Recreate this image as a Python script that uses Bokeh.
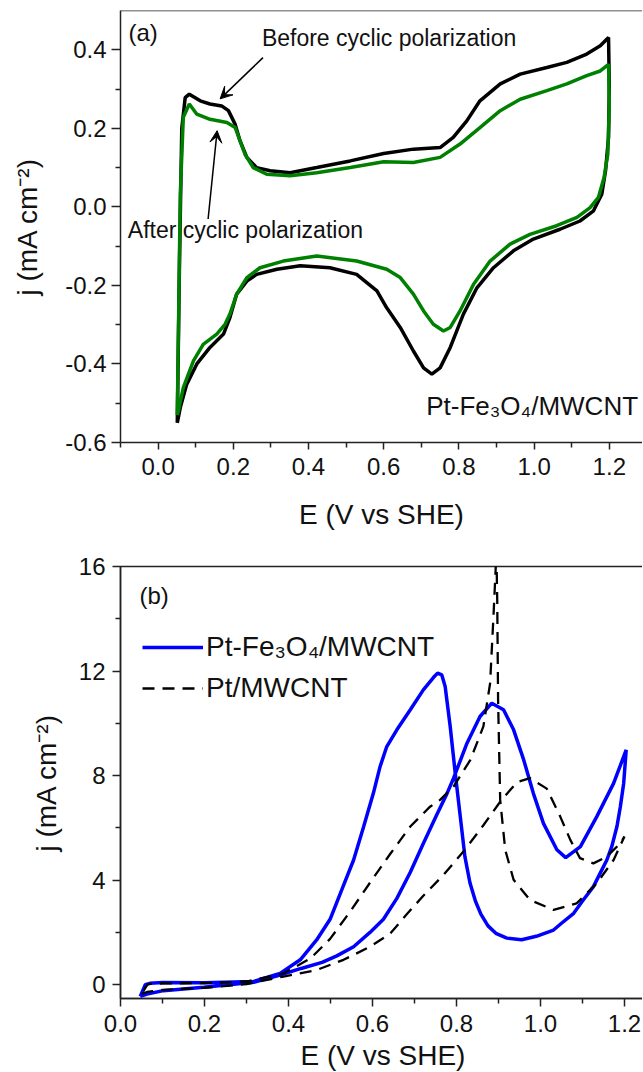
from bokeh.plotting import figure
from bokeh.layouts import column
from bokeh.models import (Range1d, FixedTicker, NumeralTickFormatter, Label,
                          Arrow, VeeHead, Span, Legend, LegendItem)
from bokeh.embed import file_html
from bokeh.resources import INLINE

FONT = "Liberation Sans"

# ---------------- Panel (a): CV before / after cyclic polarization ----------------
before_E = [0.051, 0.057, 0.063, 0.072, 0.083, 0.112, 0.138, 0.169, 0.187, 0.205, 0.218, 0.236,
            0.262, 0.298, 0.351, 0.422, 0.511, 0.60, 0.679, 0.75, 0.785, 0.821, 0.856, 0.91, 0.963,
            1.034, 1.087, 1.14, 1.176, 1.198, 1.2, 1.198, 1.19, 1.18, 1.158, 1.122, 1.069, 0.998,
            0.945, 0.892, 0.848, 0.812, 0.777, 0.75, 0.728, 0.706, 0.679, 0.644, 0.608, 0.582,
            0.528, 0.457, 0.378, 0.316, 0.262, 0.236, 0.209, 0.191, 0.174, 0.138, 0.103, 0.076,
            0.059, 0.051]
before_j = [-0.55, -0.137, 0.20, 0.278, 0.287, 0.27, 0.262, 0.257, 0.245, 0.21, 0.168, 0.126,
            0.10, 0.092, 0.087, 0.10, 0.117, 0.136, 0.147, 0.151, 0.177, 0.219, 0.27, 0.313, 0.338,
            0.355, 0.368, 0.389, 0.41, 0.431, 0.304, 0.177, 0.092, 0.032, -0.01, -0.036, -0.057,
            -0.082, -0.112, -0.155, -0.206, -0.273, -0.358, -0.41, -0.426, -0.41, -0.367, -0.307,
            -0.257, -0.214, -0.172, -0.155, -0.15, -0.159, -0.172, -0.189, -0.222, -0.282, -0.324,
            -0.358, -0.40, -0.452, -0.511, -0.55]

after_E = [0.051, 0.059, 0.067, 0.083, 0.103, 0.138, 0.183, 0.205, 0.218, 0.231, 0.253, 0.289,
           0.351, 0.422, 0.511, 0.60, 0.679, 0.75, 0.803, 0.856, 0.91, 0.963, 1.034, 1.087, 1.14,
           1.176, 1.198, 1.2, 1.196, 1.186, 1.171, 1.149, 1.114, 1.06, 0.989, 0.936, 0.883, 0.839,
           0.803, 0.777, 0.759, 0.732, 0.706, 0.679, 0.644, 0.608, 0.528, 0.422, 0.333, 0.271,
           0.236, 0.209, 0.191, 0.178, 0.156, 0.12, 0.094, 0.067, 0.054, 0.051]
after_j = [-0.53, 0.032, 0.228, 0.262, 0.236, 0.223, 0.215, 0.202, 0.168, 0.134, 0.10, 0.083,
           0.079, 0.087, 0.10, 0.115, 0.113, 0.126, 0.16, 0.202, 0.245, 0.274, 0.296, 0.313, 0.334,
           0.346, 0.363, 0.262, 0.134, 0.075, 0.024, -0.002, -0.027, -0.048, -0.07, -0.095, -0.138,
           -0.197, -0.265, -0.307, -0.316, -0.299, -0.265, -0.222, -0.18, -0.159, -0.138, -0.125,
           -0.138, -0.155, -0.18, -0.222, -0.273, -0.299, -0.324, -0.35, -0.392, -0.46, -0.52, -0.53]

# ---------------- Panel (b): methanol oxidation CVs ----------------
ptfe_E = [0.047, 0.063, 0.102, 0.198, 0.317, 0.38, 0.43, 0.48, 0.515, 0.555, 0.594, 0.626, 0.658,
          0.69, 0.721, 0.753, 0.777, 0.793, 0.825, 0.856, 0.884, 0.912, 0.936, 0.96, 0.983, 1.007,
          1.039, 1.06, 1.095, 1.134, 1.174, 1.204,
          1.198, 1.19, 1.182, 1.17, 1.158, 1.14, 1.126, 1.1, 1.079, 1.05, 1.031, 0.99, 0.955,
          0.92, 0.895, 0.875, 0.858, 0.845, 0.832, 0.82, 0.809, 0.797,
          0.785, 0.773, 0.765, 0.755, 0.745, 0.721, 0.69, 0.658, 0.634, 0.618, 0.602, 0.579, 0.555,
          0.531, 0.499, 0.467, 0.428, 0.38, 0.317, 0.2, 0.1, 0.07, 0.059, 0.047]
ptfe_j = [-0.45, -0.36, -0.23, -0.1, 0.09, 0.37, 0.62, 0.85, 1.1, 1.45, 2.0, 2.5, 3.3,
          4.3, 5.4, 6.5, 7.3, 7.9, 9.24, 10.26, 10.77, 10.52, 9.75, 8.6, 7.32, 6.17,
          5.16, 4.86, 5.28, 6.43, 7.7, 8.98,
          7.7, 6.8, 6.05, 5.3, 4.77, 4.2, 3.75, 3.2, 2.73, 2.35, 2.09, 1.85, 1.72,
          1.78, 1.95, 2.25, 2.7, 3.2, 3.9, 4.9, 6.43, 8.09,
          9.88, 11.41, 11.85, 11.92, 11.75, 11.28, 10.52, 9.75, 9.11, 8.34, 7.32, 6.05, 4.77,
          3.8, 2.5, 1.71, 0.95, 0.43, 0.12, 0.07, 0.08, 0.05, 0.0, -0.45]

pt_E = [0.05, 0.063, 0.1, 0.2, 0.3, 0.388, 0.467, 0.531, 0.594, 0.642, 0.682, 0.721, 0.769, 0.817,
        0.864, 0.904, 0.944, 0.975, 1.015, 1.047, 1.071, 1.094, 1.126, 1.158, 1.19, 1.2,
        1.174, 1.134, 1.086, 1.031, 0.975, 0.936, 0.916, 0.904, 0.899, 0.897, 0.895, 0.888, 0.88,
        0.864, 0.833, 0.793, 0.761, 0.737, 0.69, 0.642, 0.594, 0.547, 0.499, 0.452, 0.388, 0.3,
        0.2, 0.1, 0.065, 0.05]
pt_j = [-0.35, -0.28, -0.2, -0.12, 0.02, 0.31, 0.56, 0.95, 1.45, 1.95, 2.7, 3.4, 4.2, 5.1,
        6.1, 7.0, 7.75, 7.9, 7.5, 6.43, 5.54, 4.84, 4.64, 4.9, 5.41, 5.67,
        4.77, 3.88, 3.11, 2.86, 3.24, 4.01, 5.16, 7.07, 10.9, 14.7, 16.5, 14.09, 11.53,
        9.88, 8.6, 7.58, 7.07, 6.81, 6.05, 5.0, 3.9, 2.8, 1.75, 1.0, 0.43, 0.12,
        0.06, 0.05, 0.02, -0.35]

# ---------------- ticks & labels ----------------
x_ticks = [0.0, 0.2, 0.4, 0.6, 0.8, 1.0, 1.2]
x_minor = [-0.1, 0.1, 0.3, 0.5, 0.7, 0.9, 1.1]
a_y_ticks = [-0.6, -0.4, -0.2, 0.0, 0.2, 0.4]
a_y_minor = [-0.5, -0.3, -0.1, 0.1, 0.3]
b_y_ticks = [0, 4, 8, 12, 16]
b_y_minor = [2, 6, 10, 14]

x_label = "E (V vs SHE)"
y_label = "j (mA cm\u207b\u00b2)"
ptfe_name = "Pt-Fe\u2083O\u2084/MWCNT"
pt_name = "Pt/MWCNT"

AX = "#222222"


def style(p, x_fmt, y_fmt, xt, xm, yt, ym, xl_standoff, yl_standoff, x_tick_out, y_tick_out,
          x_lab_standoff, y_lab_standoff):
    p.xgrid.visible = False
    p.ygrid.visible = False
    p.xaxis.ticker = FixedTicker(ticks=xt, minor_ticks=xm)
    p.yaxis.ticker = FixedTicker(ticks=yt, minor_ticks=ym)
    p.xaxis.formatter = NumeralTickFormatter(format=x_fmt)
    p.yaxis.formatter = NumeralTickFormatter(format=y_fmt)
    for ax, to, ls, als in ((p.xaxis, x_tick_out, x_lab_standoff, xl_standoff),
                            (p.yaxis, y_tick_out, y_lab_standoff, yl_standoff)):
        ax.axis_line_color = AX
        ax.axis_line_width = 1.5
        ax.major_tick_line_color = AX
        ax.minor_tick_line_color = AX
        ax.major_tick_line_width = 1.5
        ax.minor_tick_line_width = 1.5
        ax.major_tick_in = 0
        ax.minor_tick_in = 0
        ax.major_tick_out = to
        ax.minor_tick_out = 5
        ax.major_label_standoff = ls
        ax.major_label_text_font = FONT
        ax.major_label_text_font_size = "24px"
        ax.major_label_text_color = "#111111"
        ax.axis_label_text_font = FONT
        ax.axis_label_text_font_size = "28px"
        ax.axis_label_text_font_style = "normal"
        ax.axis_label_text_color = "#111111"
        ax.axis_label_standoff = als
    p.xaxis.axis_label = x_label
    p.yaxis.axis_label = y_label


# ---------- top figure ----------
p1 = figure(frame_width=522, frame_height=432,
            x_range=Range1d(-0.1, -0.1 + 522 / 376.0), y_range=Range1d(-0.6, 0.5),
            output_backend="svg", toolbar_location=None,
            min_border_left=120, min_border_right=0, min_border_top=10, min_border_bottom=98)
p1.outline_line_color = None
style(p1, "0.0", "0.0", x_ticks, x_minor, a_y_ticks, a_y_minor, 21, 19, 7, 9, 8, 5)
p1.add_layout(Span(location=0.5, dimension="width", line_color=AX, line_width=1.5))

p1.line(before_E, before_j, line_color="black", line_width=3.5)
p1.line(after_E, after_j, line_color="#008000", line_width=3.5)

p1.add_layout(Label(x=-0.079, y=0.443, text="(a)", text_font=FONT, text_font_size="24px",
                    text_baseline="middle", text_align="left", text_color="#111111"))
p1.add_layout(Label(x=0.276, y=0.429, text="Before cyclic polarization", text_font=FONT,
                    text_font_size="23px", text_baseline="middle", text_align="left",
                    text_color="#111111"))
p1.add_layout(Label(x=-0.0806, y=-0.058, text="After cyclic polarization", text_font=FONT,
                    text_font_size="23px", text_baseline="middle", text_align="left",
                    text_color="#111111"))
p1.add_layout(Label(x=0.713, y=-0.508, text=ptfe_name, text_font=FONT,
                    text_font_size="26px", text_baseline="middle", text_align="left",
                    text_color="#111111"))
p1.add_layout(Arrow(end=VeeHead(size=12, fill_color="black", line_color="black"),
                    x_start=0.279, y_start=0.38, x_end=0.165, y_end=0.275,
                    line_color="black", line_width=1.5))
p1.add_layout(Arrow(end=VeeHead(size=12, fill_color="black", line_color="black"),
                    x_start=0.133, y_start=-0.031, x_end=0.157, y_end=0.194,
                    line_color="black", line_width=1.5))

# ---------- bottom figure ----------
p2 = figure(frame_width=525, frame_height=432,
            x_range=Range1d(0.0, 1.25), y_range=Range1d(-0.53, 16.0),
            output_backend="svg", toolbar_location=None,
            min_border_left=117, min_border_right=0, min_border_top=26, min_border_bottom=73)
p2.outline_line_color = AX
p2.outline_line_width = 1.5
style(p2, "0.0", "0", x_ticks, x_minor, b_y_ticks, b_y_minor, 5, 14, 8, 8, 8, 7)

r_blue = p2.line(ptfe_E, ptfe_j, line_color="#0000ff", line_width=3.5)
r_dash = p2.line(pt_E, pt_j, line_color="black", line_width=2.3, line_dash="12 8")

p2.add_layout(Label(x=0.045, y=14.89, text="(b)", text_font=FONT, text_font_size="24px",
                    text_baseline="middle", text_align="left", text_color="#111111"))

legend = Legend(items=[LegendItem(label=ptfe_name, renderers=[r_blue]),
                       LegendItem(label=pt_name, renderers=[r_dash])],
                location=(41, 294), padding=0, margin=0, spacing=9,
                glyph_width=61, glyph_height=32, label_height=32, label_standoff=3,
                label_text_font=FONT, label_text_font_size="28px", label_text_color="#111111",
                border_line_color=None, background_fill_alpha=0)
p2.add_layout(legend)

layout = column(p1, p2, spacing=0)
open("out.html", "w").write(file_html(layout, INLINE))
